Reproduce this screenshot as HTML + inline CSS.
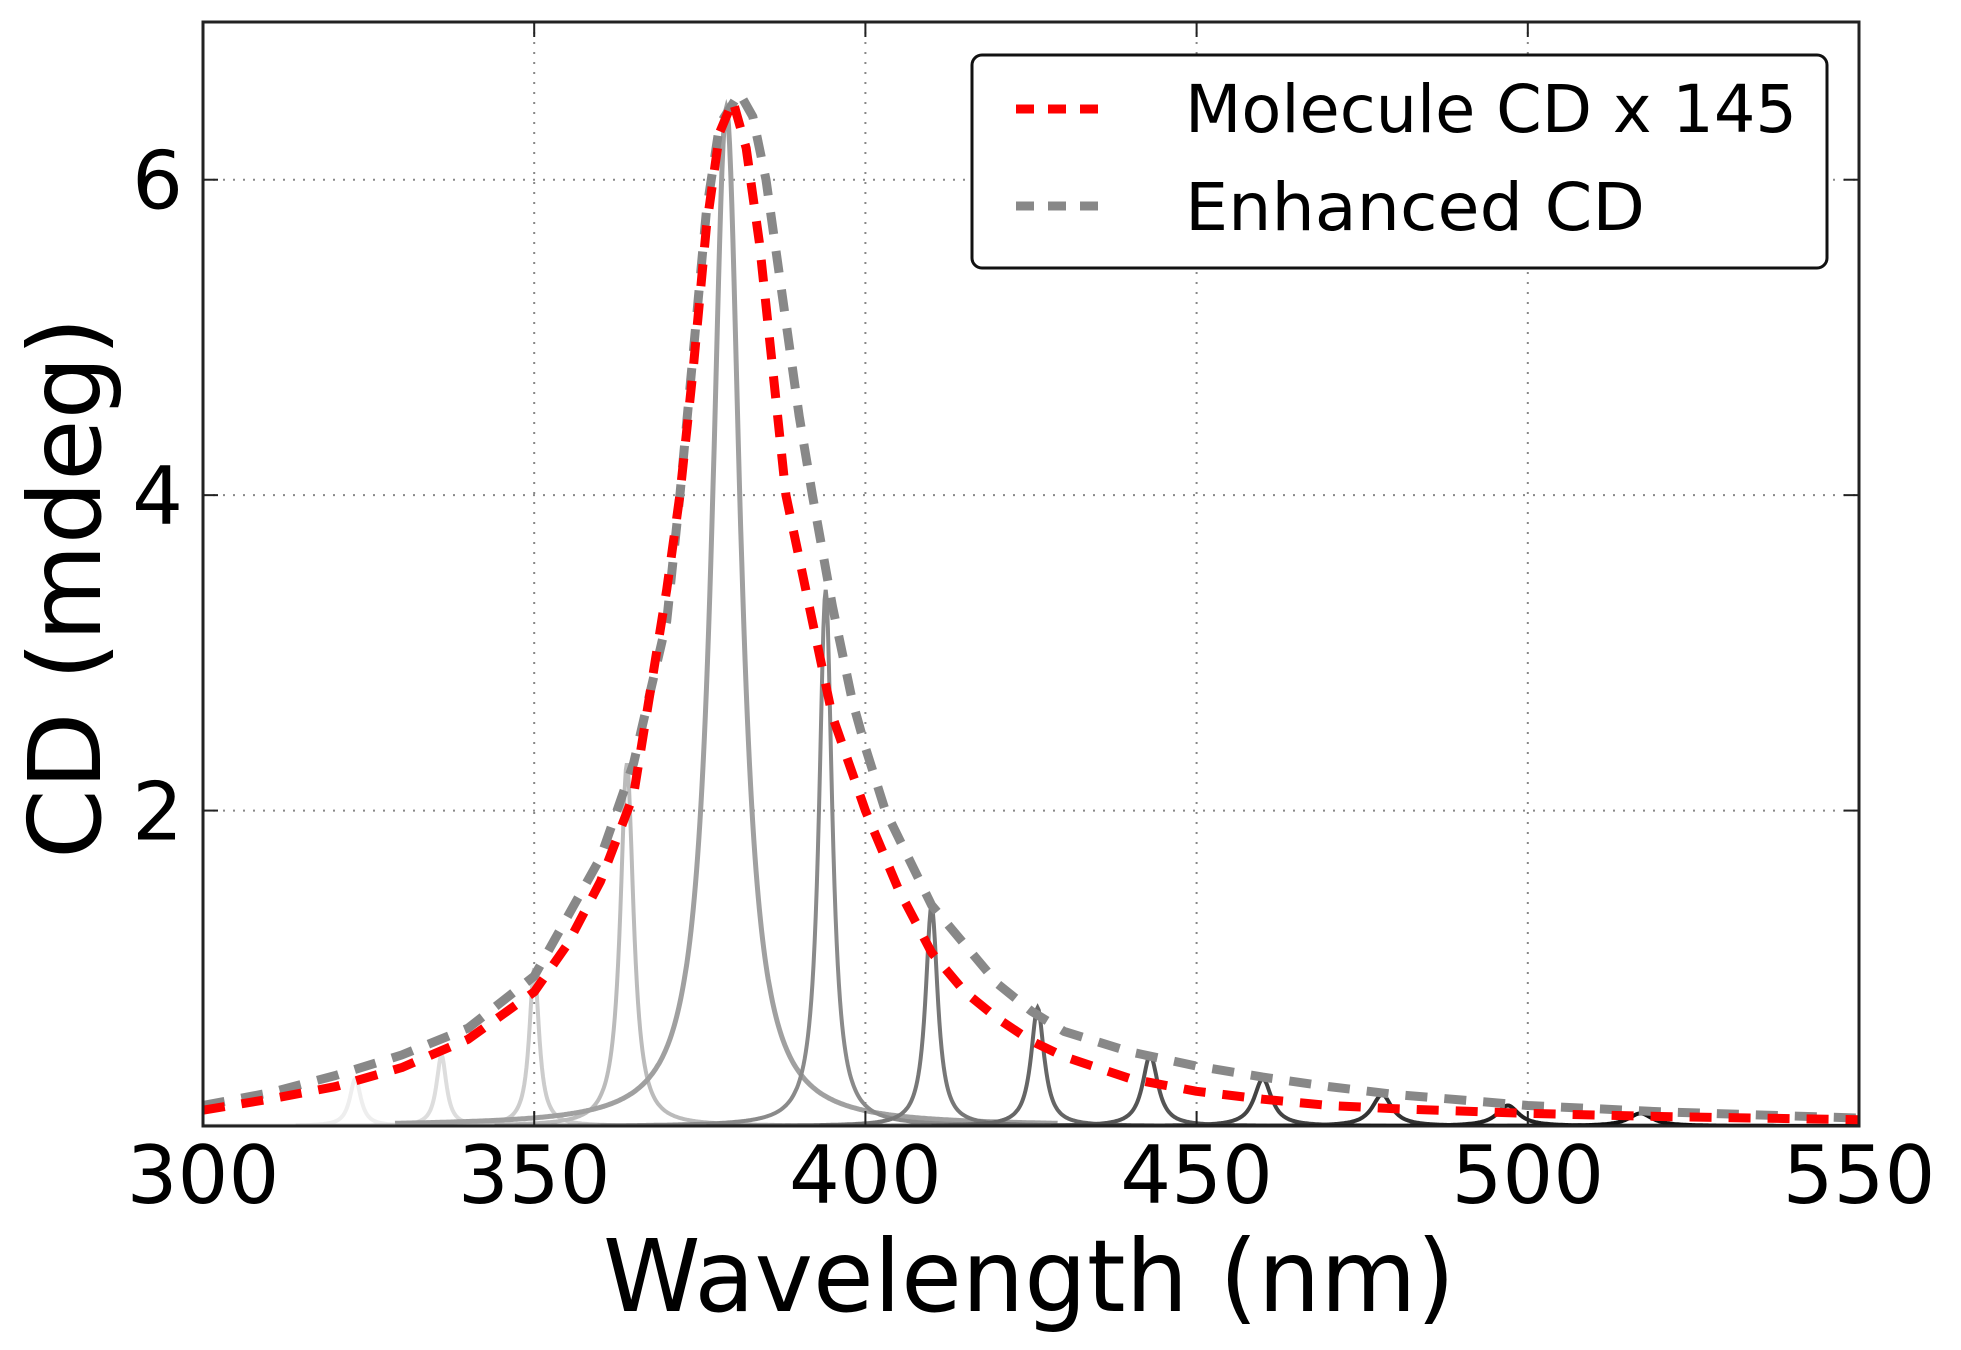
<!DOCTYPE html>
<html><head><meta charset="utf-8"><style>
html,body{margin:0;padding:0;background:#fff;}
svg{display:block;font-family:"DejaVu Sans","Liberation Sans",sans-serif;}
</style></head><body>
<svg id="chart" width="1961" height="1350" viewBox="0 0 1961 1350" xmlns="http://www.w3.org/2000/svg">
<rect width="1961" height="1350" fill="#fff"/>
<defs><clipPath id="plotclip"><rect x="203" y="22" width="1656" height="1104"/></clipPath></defs>
<g id="grid"></g>
<g id="series" clip-path="url(#plotclip)"></g>
<rect x="203" y="22" width="1656" height="1104" fill="none" stroke="#222" stroke-width="3"/>
<g id="ticks"></g>
<text x="1029" y="1311" font-size="100" text-anchor="middle" textLength="852" lengthAdjust="spacingAndGlyphs">Wavelength (nm)</text>
<text transform="translate(100,588) rotate(-90)" font-size="100" text-anchor="middle" textLength="542" lengthAdjust="spacingAndGlyphs">CD (mdeg)</text>
<g>
<rect x="972" y="55" width="855" height="213" rx="10" fill="#fff" stroke="#111" stroke-width="3"/>
<line x1="1016" y1="109" x2="1112" y2="109" stroke="#ff0000" stroke-width="9" stroke-dasharray="18,14"/>
<text x="1185" y="132" font-size="66" textLength="612" lengthAdjust="spacingAndGlyphs">Molecule CD x 145</text>
<line x1="1016" y1="206" x2="1112" y2="206" stroke="#888" stroke-width="9" stroke-dasharray="18,14"/>
<text x="1185" y="230" font-size="66" textLength="460" lengthAdjust="spacingAndGlyphs">Enhanced CD</text>
</g>
</svg>
<script>
const xTicks = [300, 350, 400, 450, 500, 550];
const yTicks = [2, 4, 6];
const moleculeX = [300,310,320,330,340,345,350,355,360,365,370,372,374,376,378,380,382,384,386,388,390,392,395,400,405,410,415,420,425,430,440,450,460,470,480,500,520,550];
const moleculeY = [0.1,0.17,0.25,0.37,0.55,0.7,0.85,1.15,1.55,2.1,3.4,4.0,4.8,5.7,6.3,6.5,6.2,5.6,4.8,4.0,3.6,3.2,2.6,2.0,1.5,1.1,0.85,0.68,0.54,0.44,0.3,0.22,0.17,0.13,0.11,0.08,0.06,0.04];
const enhancedX = [300,310,320,330,340,350,360,365,370,372,374,376,378,381,383,385,387,390,392,395,398,400,403,410,420,425,430,440,450,460,470,480,500,520,550];
const enhancedY = [0.13,0.21,0.32,0.45,0.62,0.95,1.7,2.3,3.2,4.0,4.9,5.8,6.35,6.55,6.4,6.0,5.4,4.5,4.0,3.3,2.7,2.4,2.0,1.4,0.9,0.73,0.6,0.47,0.38,0.31,0.25,0.2,0.13,0.09,0.05];
const peakCenters = [323, 336, 350, 364, 379, 394, 410, 426, 443, 460, 478, 497, 517];
const peakHeights = [0.3, 0.45, 1.0, 2.3, 6.45, 3.4, 1.4, 0.75, 0.45, 0.3, 0.2, 0.13, 0.08];
const peakWidths = [1.0, 0.9, 0.9, 1.2, 2.6, 1.2, 1.1, 1.2, 1.4, 1.6, 1.8, 2.0, 2.2];
const peakShades = ['#eeeeee','#dddddd','#cccccc','#bbbbbb','#a0a0a0','#8a8a8a','#777777','#666666','#555555','#444444','#333333','#222222','#111111'];

const NS = 'http://www.w3.org/2000/svg';
const X0 = 203, X1 = 1859, Y0 = 1126, Y1 = 22;
function sx(v){ return X0 + (v - 300) / 250 * (X1 - X0); }
function sy(v){ return Y0 - v / 7 * (Y0 - Y1); }

const grid = document.getElementById('grid');
const ticks = document.getElementById('ticks');
const series = document.getElementById('series');

xTicks.forEach(function(t){
  const x = sx(t);
  if (t > 300 && t < 550) {
    const g = document.createElementNS(NS, 'line');
    
    
    g.setAttribute('x1', x); g.setAttribute('x2', x); g.setAttribute('y1', Y1); g.setAttribute('y2', Y0);
    g.setAttribute('stroke', '#888'); g.setAttribute('stroke-width', '2'); g.setAttribute('stroke-dasharray', '2,8');
    grid.appendChild(g);
    const tk = document.createElementNS(NS, 'line');
    
    
    tk.setAttribute('x1', x); tk.setAttribute('x2', x); tk.setAttribute('y1', Y0); tk.setAttribute('y2', Y0 - 15);
    tk.setAttribute('stroke', '#222'); tk.setAttribute('stroke-width', '2');
    ticks.appendChild(tk);
    const tk2 = document.createElementNS(NS, 'line');
    
    
    tk2.setAttribute('x1', x); tk2.setAttribute('x2', x); tk2.setAttribute('y1', Y1); tk2.setAttribute('y2', Y1 + 15);
    tk2.setAttribute('stroke', '#222'); tk2.setAttribute('stroke-width', '2');
    ticks.appendChild(tk2);
  }
  const lb = document.createElementNS(NS, 'text');
  
  
  lb.setAttribute('x', x); lb.setAttribute('y', 1203);
  lb.setAttribute('font-size', '80'); lb.setAttribute('text-anchor', 'middle');
  lb.textContent = t;
  ticks.appendChild(lb);
});

yTicks.forEach(function(t){
  const y = sy(t);
  const g = document.createElementNS(NS, 'line');
  
  
  g.setAttribute('x1', X0); g.setAttribute('x2', X1); g.setAttribute('y1', y); g.setAttribute('y2', y);
  g.setAttribute('stroke', '#888'); g.setAttribute('stroke-width', '2'); g.setAttribute('stroke-dasharray', '2,8');
  grid.appendChild(g);
  const tk = document.createElementNS(NS, 'line');
  
  
  tk.setAttribute('x1', X0); tk.setAttribute('x2', X0 + 15); tk.setAttribute('y1', y); tk.setAttribute('y2', y);
  tk.setAttribute('stroke', '#222'); tk.setAttribute('stroke-width', '2');
  ticks.appendChild(tk);
  const tk2 = document.createElementNS(NS, 'line');
  
  
  tk2.setAttribute('x1', X1); tk2.setAttribute('x2', X1 - 15); tk2.setAttribute('y1', y); tk2.setAttribute('y2', y);
  tk2.setAttribute('stroke', '#222'); tk2.setAttribute('stroke-width', '2');
  ticks.appendChild(tk2);
  const lb = document.createElementNS(NS, 'text');
  
  
  lb.setAttribute('x', 183); lb.setAttribute('y', y + 29);
  lb.setAttribute('font-size', '80'); lb.setAttribute('text-anchor', 'end');
  lb.textContent = t;
  ticks.appendChild(lb);
});

peakCenters.forEach(function(c, i){
  const h = peakHeights[i], w = peakWidths[i];
  let d = '';
  for (let k = 0; k <= 600; k++) {
    const wl = c - 50 + k * 100 / 600;
    const v = h / (1 + Math.pow((wl - c) / w, 2));
    d += (k ? 'L' : 'M') + sx(wl).toFixed(1) + ',' + sy(v).toFixed(1);
  }
  const p = document.createElementNS(NS, 'path');
  
  
  p.setAttribute('d', d);
  p.setAttribute('fill', 'none');
  p.setAttribute('stroke', peakShades[i]);
  p.setAttribute('stroke-width', i === 4 ? '5' : '4');
  series.appendChild(p);
});

function dashed(xs, ys, color, name){
  let d = '';
  xs.forEach(function(v, i){ d += (i ? 'L' : 'M') + sx(v).toFixed(1) + ',' + sy(ys[i]).toFixed(1); });
  const p = document.createElementNS(NS, 'path');
  
  
  p.setAttribute('d', d);
  p.setAttribute('fill', 'none');
  p.setAttribute('stroke', color);
  p.setAttribute('stroke-width', '9');
  p.setAttribute('stroke-dasharray', '22,17');
  p.setAttribute('stroke-linejoin', 'round');
  series.appendChild(p);
}
dashed(enhancedX, enhancedY, '#888888', 'enhanced-cd-line');
dashed(moleculeX, moleculeY, '#ff0000', 'molecule-cd-line');
</script>
</body></html>
